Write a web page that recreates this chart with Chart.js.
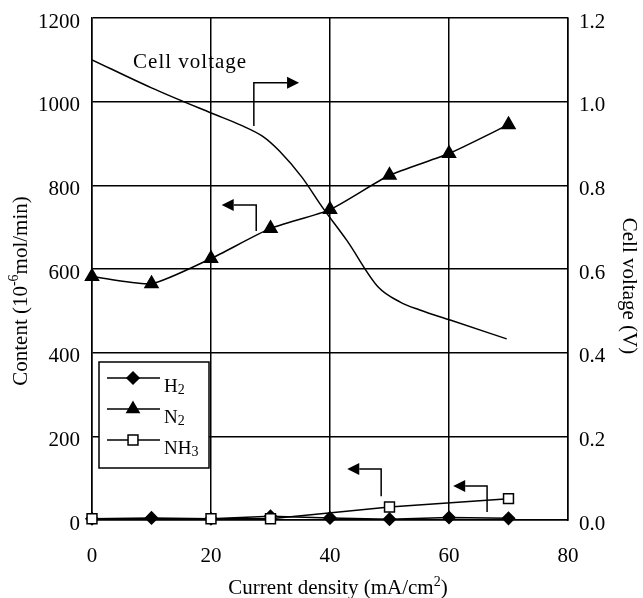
<!DOCTYPE html>
<html>
<head>
<meta charset="utf-8">
<script src="https://cdn.jsdelivr.net/npm/chart.js@4/dist/chart.umd.min.js"></script>
<style>
  html, body { margin: 0; padding: 0; background: #fff; }
  #wrap { width: 643px; height: 598px; position: relative; }
</style>
</head>
<body>
<div id="wrap"><canvas id="chart"></canvas></div>
<script>
// values
const densityTicks = [0, 20, 40, 60, 80];
const contentTicks = [0, 200, 400, 600, 800, 1000, 1200];
const voltageTicks = [0, 0.2, 0.4, 0.6, 0.8, 1.0, 1.2];

const currentDensity = [0, 10, 20, 30, 40, 50, 60, 70];
const h2Content = [3, 5, 3, 9, 5, 2, 6, 4];
const n2Content = [582, 565, 625, 697, 742, 824, 876, 945];

const nh3Density = [0, 20, 30, 50, 70];
const nh3Content = [3, 3, 3, 31, 51];

const voltageDensity = [0, 10, 20, 25, 28.7, 31.5, 35.3, 38.7, 42.8, 48.1, 51.8, 55.1, 60.2, 69.7];
const cellVoltage = [1.10, 1.033, 0.973, 0.944, 0.917, 0.882, 0.819, 0.748, 0.669, 0.557, 0.521, 0.502, 0.478, 0.433];

// callout arrows (x in mA/cm2, y in content units)
const callouts = [
  { x: 27.2, yFrom: 942, yTo: 1045, xTip: 34.8 },
  { x: 27.6, yFrom: 691, yTo: 753, xTip: 21.8 },
  { x: 48.6, yFrom: 57, yTo: 122, xTip: 42.9 },
  { x: 66.4, yFrom: 19, yTo: 81, xTip: 60.7 }
];
const voltageLabel = { text: 'Cell voltage', x: 6.9, y: 1080 };

const SERIF = '"Liberation Serif", "Times New Roman", serif';
const pairs = (xs, ys) => xs.map((x, i) => ({ x: x, y: ys[i] }));

// draw a row of text pieces (for sub/superscripts)
function drawRich(ctx, parts, x, y, align) {
  let total = 0;
  parts.forEach(p => {
    ctx.font = p.size + 'px ' + SERIF;
    p.w = ctx.measureText(p.text).width;
    total += p.w;
  });
  let cx = align === 'center' ? x - total / 2 : x;
  ctx.textAlign = 'left';
  ctx.textBaseline = 'alphabetic';
  parts.forEach(p => {
    ctx.font = p.size + 'px ' + SERIF;
    ctx.fillText(p.text, cx, y + (p.dy || 0));
    cx += p.w;
  });
}

const extras = {
  id: 'extras',
  afterDraw(chart) {
    const ctx = chart.ctx;
    const xs = chart.scales.x, ys = chart.scales.y;
    const ca = chart.chartArea;
    ctx.save();
    ctx.fillStyle = '#000';
    ctx.strokeStyle = '#000';
    ctx.lineWidth = 1.5;

    // arrows
    callouts.forEach(a => {
      const px = xs.getPixelForValue(a.x);
      const py0 = ys.getPixelForValue(a.yFrom);
      const py1 = ys.getPixelForValue(a.yTo);
      const tip = xs.getPixelForValue(a.xTip);
      const dir = tip > px ? 1 : -1;
      const head = 12;
      ctx.beginPath();
      ctx.moveTo(px, py0);
      ctx.lineTo(px, py1);
      ctx.lineTo(tip - dir * head, py1);
      ctx.stroke();
      ctx.beginPath();
      ctx.moveTo(tip, py1);
      ctx.lineTo(tip - dir * head, py1 - 6);
      ctx.lineTo(tip - dir * head, py1 + 6);
      ctx.closePath();
      ctx.fill();
    });

    // "Cell voltage" label
    ctx.font = '21px ' + SERIF;
    ctx.letterSpacing = '1px';
    ctx.textAlign = 'left';
    ctx.textBaseline = 'alphabetic';
    ctx.fillText(voltageLabel.text, xs.getPixelForValue(voltageLabel.x), ys.getPixelForValue(voltageLabel.y));
    ctx.letterSpacing = '0px';

    // legend box
    const lx = ca.left + 7, ly = 362, lw = 110, lh = 106;
    ctx.fillStyle = '#fff';
    ctx.fillRect(lx, ly, lw, lh);
    ctx.strokeRect(lx, ly, lw, lh);
    ctx.fillStyle = '#000';
    const rows = [
      { style: 'rectRot', r: 6, fill: '#000', label: [{ text: 'H', size: 19 }, { text: '2', size: 14, dy: 2 }] },
      { style: 'triangle', r: 7, fill: '#000', label: [{ text: 'N', size: 19 }, { text: '2', size: 14, dy: 2 }] },
      { style: 'rect', r: 7, fill: '#fff', label: [{ text: 'NH', size: 19 }, { text: '3', size: 14, dy: 2 }] }
    ];
    rows.forEach((row, i) => {
      const yy = ly + 16 + i * 31;
      ctx.beginPath();
      ctx.moveTo(lx + 8, yy);
      ctx.lineTo(lx + 61, yy);
      ctx.stroke();
      ctx.fillStyle = row.fill;
      Chart.helpers.drawPoint(ctx, { pointStyle: row.style, radius: row.r, rotation: 0, borderWidth: 1.5 }, lx + 34, yy);
      ctx.fillStyle = '#000';
      drawRich(ctx, row.label, lx + 65, yy + 14, 'left');
    });

    // axis titles
    ctx.save();
    ctx.translate(20, 291);
    ctx.rotate(-Math.PI / 2);
    drawRich(ctx, [
      { text: 'Content (10', size: 21 },
      { text: '-6', size: 14, dy: -9 },
      { text: 'mol/min)', size: 21 }
    ], 0, 7, 'center');
    ctx.restore();

    ctx.save();
    ctx.translate(630, 286);
    ctx.rotate(Math.PI / 2);
    drawRich(ctx, [{ text: 'Cell voltage (V)', size: 21 }], 0, 7, 'center');
    ctx.restore();

    drawRich(ctx, [
      { text: 'Current density (mA/cm', size: 21 },
      { text: '2', size: 14, dy: -8 },
      { text: ')', size: 21 }
    ], 338, 594, 'center');

    ctx.restore();
  }
};

const gridStyle = { color: '#000', lineWidth: 1.5, drawTicks: false };
const tickFont = { family: SERIF, size: 21 };
const noPad = s => { s.paddingTop = 0; s.paddingBottom = 0; s.paddingLeft = 0; s.paddingRight = 0; };

new Chart(document.getElementById('chart'), {
  type: 'line',
  data: {
    datasets: [
      {
        label: 'NH3',
        data: pairs(nh3Density, nh3Content),
        yAxisID: 'y',
        borderColor: '#000',
        borderWidth: 1.5,
        pointStyle: 'rect',
        pointRadius: 7,
        pointBackgroundColor: '#fff',
        pointBorderColor: '#000',
        pointBorderWidth: 1.5,
        clip: false,
        order: 0
      },
      {
        label: 'H2',
        data: pairs(currentDensity, h2Content),
        yAxisID: 'y',
        borderColor: '#000',
        borderWidth: 1.5,
        pointStyle: 'rectRot',
        pointRadius: 6,
        pointBackgroundColor: '#000',
        pointBorderColor: '#000',
        clip: false,
        order: 1
      },
      {
        label: 'N2',
        data: pairs(currentDensity, n2Content),
        yAxisID: 'y',
        borderColor: '#000',
        borderWidth: 1.5,
        tension: 0.2,
        pointStyle: 'triangle',
        pointRadius: 7.5,
        pointBackgroundColor: '#000',
        pointBorderColor: '#000',
        clip: false,
        order: 2
      },
      {
        label: 'Cell voltage',
        data: pairs(voltageDensity, cellVoltage),
        yAxisID: 'y1',
        borderColor: '#000',
        borderWidth: 1.5,
        cubicInterpolationMode: 'monotone',
        pointRadius: 0,
        order: 3
      }
    ]
  },
  options: {
    responsive: true,
    maintainAspectRatio: false,
    animation: false,
    layout: { padding: { top: 18, left: 0, right: 0, bottom: 0 } },
    plugins: { legend: { display: false }, tooltip: { enabled: false } },
    scales: {
      x: {
        type: 'linear',
        min: 0, max: 80,
        afterFit: s => { s.height = 78; noPad(s); },
        afterBuildTicks: s => { s.ticks = densityTicks.map(v => ({ value: v })); },
        grid: gridStyle,
        border: { color: '#000', width: 1.5 },
        ticks: { color: '#000', font: tickFont, padding: 24, maxRotation: 0, callback: v => String(v) }
      },
      y: {
        position: 'left',
        min: 0, max: 1200,
        afterFit: s => { s.width = 92; noPad(s); },
        afterBuildTicks: s => { s.ticks = contentTicks.map(v => ({ value: v })); },
        grid: gridStyle,
        border: { color: '#000', width: 1.5 },
        ticks: { color: '#000', font: tickFont, padding: 12, labelOffset: 4, callback: v => String(v) }
      },
      y1: {
        position: 'right',
        min: 0, max: 1.2,
        afterFit: s => { s.width = 75; noPad(s); },
        afterBuildTicks: s => { s.ticks = voltageTicks.map(v => ({ value: v })); },
        grid: { display: false, drawTicks: false },
        border: { color: '#000', width: 1.5 },
        ticks: { color: '#000', font: tickFont, padding: 11, labelOffset: 4, callback: v => v.toFixed(1) }
      }
    }
  },
  plugins: [extras]
});
</script>
</body>
</html>
